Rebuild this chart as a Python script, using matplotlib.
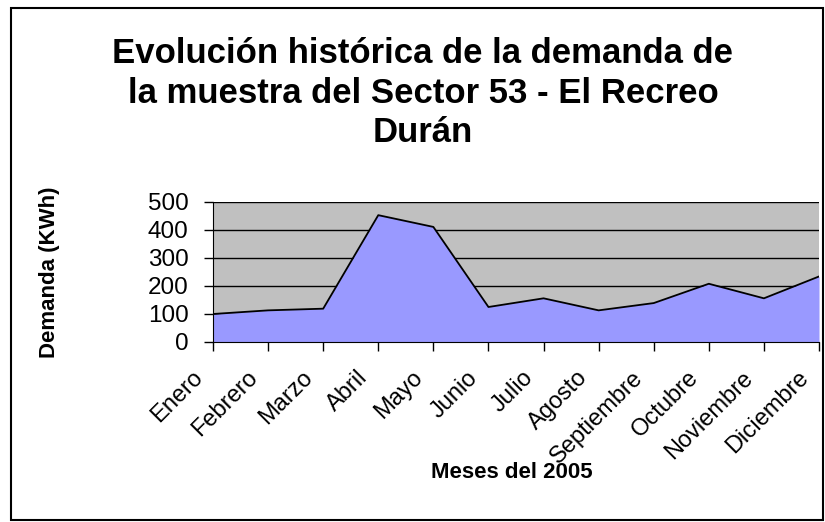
import matplotlib
matplotlib.use("Agg")
import matplotlib.pyplot as plt
from matplotlib.patches import Rectangle
from matplotlib.transforms import ScaledTranslation

months = ["Enero", "Febrero", "Marzo", "Abril", "Mayo", "Junio", "Julio",
          "Agosto", "Septiembre", "Octubre", "Noviembre", "Diciembre"]
demanda = [100, 113, 119, 453, 411, 125, 156, 113, 139, 208, 156, 234]
yticks = [0, 100, 200, 300, 400, 500]
title_lines = ["Evolución histórica de la demanda de",
               "la muestra del Sector 53 - El Recreo",
               "Durán"]

plt.rcParams['font.family'] = ['Liberation Sans', 'DejaVu Sans']

W, H = 825, 522
fig = plt.figure(figsize=(W / 100, H / 100), dpi=100)
fig.patch.set_facecolor('white')

# outer chart border
fig.add_artist(Rectangle((11 / W, 1 - 520 / H), (823 - 11) / W, (520 - 8) / H,
                         transform=fig.transFigure, fill=False,
                         edgecolor='black', linewidth=1.5))

left, right, top, bottom = 213, 819, 202, 342
ax = fig.add_axes([left / W, 1 - bottom / H, (right - left) / W, (bottom - top) / H])
x = list(range(len(months)))
ax.set_facecolor('#C0C0C0')
ax.fill_between(x, demanda, 0, color='#9999FF', zorder=2, linewidth=0)
ax.plot(x, demanda, color='black', linewidth=1.3, zorder=3)
ax.set_xlim(0, len(months) - 1)
ax.set_ylim(0, 500)
ax.set_yticks(yticks)
ax.set_yticklabels([str(v) for v in yticks], fontsize=17.5)
ax.yaxis.grid(True, color='black', linewidth=1.0, zorder=1)
ax.set_axisbelow(True)
ax.set_xticks(x)
ax.set_xticklabels(months, rotation=45, ha='right', va='center', fontsize=17,
                   rotation_mode='anchor')
ax.tick_params(axis='x', direction='out', length=6.5, width=1, pad=17)
ax.tick_params(axis='y', direction='out', length=6.5, width=1, pad=11)
shift = ScaledTranslation(-14 / 100, 0, fig.dpi_scale_trans)
for lab in ax.get_xticklabels():
    lab.set_transform(lab.get_transform() + shift)
for s in ['top', 'right']:
    ax.spines[s].set_visible(False)
ax.spines['left'].set_color('black')
ax.spines['bottom'].set_color('black')

for line, base in zip(title_lines, [63, 103, 142]):
    fig.text(423 / W, 1 - base / H, line, ha='center', va='baseline',
             fontsize=25, fontweight='bold')

fig.text(512 / W, 1 - 472 / H, "Meses del 2005", ha='center', va='center',
         fontsize=16, fontweight='bold')
fig.text(50 / W, 1 - 272 / H, "Demanda (KWh)", ha='center', va='center',
         fontsize=16, fontweight='bold', rotation=90)

fig.savefig("out.png", dpi=100)
